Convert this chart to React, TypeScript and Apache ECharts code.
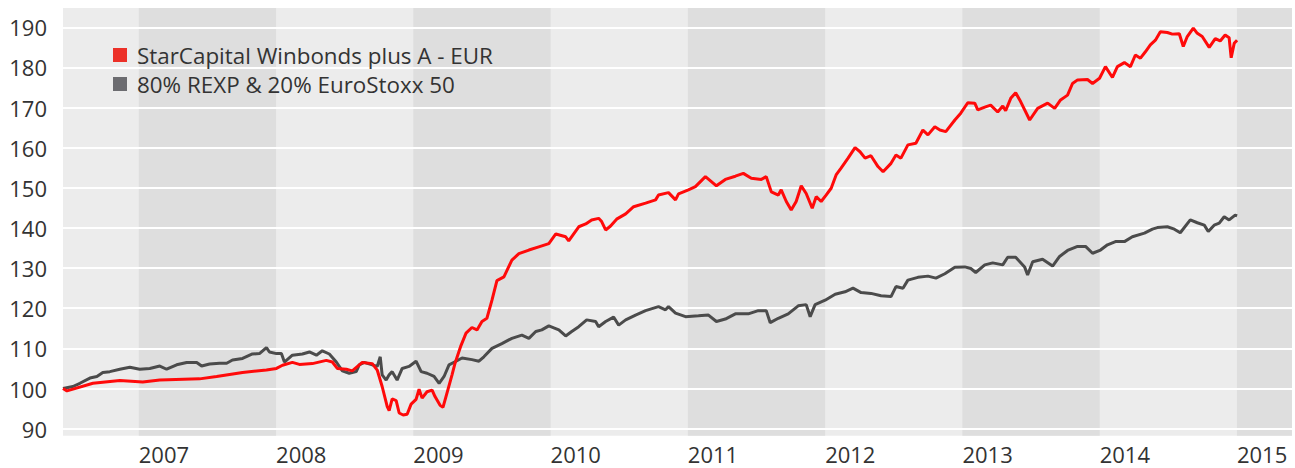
import React, { useEffect, useRef } from "react";
import * as echarts from "echarts";

const fundName = "StarCapital Winbonds plus A - EUR";
const benchName = "80% REXP & 20% EuroStoxx 50";

// [decimal year, value]
const fundPoints: [number, number][] = [
  [2006.448, 100.0], [2006.477, 99.4], [2006.666, 101.3], [2006.862, 102.0],
  [2007.029, 101.6], [2007.153, 102.1], [2007.443, 102.4], [2007.567, 103.0],
  [2007.756, 104.0], [2007.93, 104.6], [2008.003, 105.0], [2008.047, 105.8],
  [2008.119, 106.5], [2008.17, 106.0], [2008.265, 106.2], [2008.366, 107.0],
  [2008.41, 106.6], [2008.446, 105.0], [2008.512, 104.8], [2008.555, 104.4],
  [2008.628, 106.5], [2008.701, 106.2], [2008.737, 104.6], [2008.773, 100.5],
  [2008.81, 95.5], [2008.824, 94.5], [2008.846, 97.4], [2008.875, 97.0],
  [2008.897, 93.9], [2008.926, 93.4], [2008.955, 93.6], [2008.984, 96.1],
  [2009.02, 97.3], [2009.042, 99.8], [2009.064, 97.6], [2009.1, 99.2],
  [2009.137, 99.6], [2009.158, 98.0], [2009.195, 95.8], [2009.216, 95.3],
  [2009.238, 98.0], [2009.282, 103.4], [2009.304, 106.3], [2009.347, 110.7],
  [2009.384, 113.8], [2009.427, 115.2], [2009.464, 114.6], [2009.5, 116.7],
  [2009.536, 117.5], [2009.573, 122.0], [2009.609, 126.9], [2009.66, 127.8],
  [2009.718, 132.0], [2009.769, 133.6], [2009.842, 134.5], [2009.914, 135.3],
  [2009.987, 136.1], [2010.038, 138.5], [2010.11, 137.8], [2010.132, 136.8],
  [2010.205, 140.3], [2010.256, 141.0], [2010.299, 142.0], [2010.35, 142.4],
  [2010.372, 141.6], [2010.401, 139.5], [2010.437, 140.5], [2010.481, 142.2],
  [2010.547, 143.5], [2010.605, 145.3], [2010.692, 146.2], [2010.765, 147.0],
  [2010.786, 148.2], [2010.859, 148.8], [2010.91, 147.0], [2010.932, 148.5],
  [2011.004, 149.5], [2011.055, 150.3], [2011.128, 152.8], [2011.208, 150.5],
  [2011.273, 152.1], [2011.346, 152.9], [2011.404, 153.6], [2011.462, 152.4],
  [2011.535, 152.1], [2011.571, 152.8], [2011.608, 149.0], [2011.659, 148.2],
  [2011.68, 149.5], [2011.717, 146.6], [2011.753, 144.5], [2011.789, 146.6],
  [2011.826, 150.5], [2011.862, 148.6], [2011.906, 144.9], [2011.935, 147.8],
  [2011.971, 146.6], [2012.007, 148.2], [2012.044, 149.9], [2012.08, 153.2],
  [2012.116, 154.9], [2012.167, 157.4], [2012.218, 160.0], [2012.254, 159.0],
  [2012.291, 157.4], [2012.334, 158.0], [2012.385, 155.3], [2012.422, 154.0],
  [2012.48, 156.1], [2012.516, 158.2], [2012.552, 157.4], [2012.603, 160.7],
  [2012.661, 161.1], [2012.712, 164.4], [2012.749, 163.2], [2012.799, 165.2],
  [2012.836, 164.4], [2012.879, 164.0], [2012.945, 166.9], [2012.988, 168.6],
  [2013.039, 171.2], [2013.09, 171.1], [2013.112, 169.4], [2013.163, 170.1],
  [2013.206, 170.6], [2013.257, 168.9], [2013.294, 170.4], [2013.315, 169.2],
  [2013.352, 172.3], [2013.388, 173.7], [2013.424, 171.5], [2013.49, 166.9],
  [2013.548, 169.8], [2013.621, 171.1], [2013.672, 169.8], [2013.715, 171.9],
  [2013.766, 173.1], [2013.802, 176.0], [2013.839, 176.9], [2013.911, 177.0],
  [2013.948, 176.0], [2013.999, 177.3], [2014.042, 180.2], [2014.093, 177.5],
  [2014.129, 180.2], [2014.18, 181.2], [2014.224, 180.2], [2014.26, 183.1],
  [2014.297, 182.3], [2014.333, 183.9], [2014.369, 185.6], [2014.406, 186.8],
  [2014.442, 188.9], [2014.493, 188.7], [2014.529, 188.3], [2014.58, 188.4],
  [2014.609, 185.2], [2014.638, 187.7], [2014.682, 189.8], [2014.711, 188.5],
  [2014.747, 187.7], [2014.798, 185.0], [2014.842, 187.2], [2014.878, 186.6],
  [2014.914, 188.1], [2014.943, 187.4], [2014.958, 182.4], [2014.98, 186.0],
  [2015.001, 186.8],
];

const benchPoints: [number, number][] = [
  [2006.448, 100.0], [2006.52, 100.5], [2006.571, 101.3], [2006.644, 102.6],
  [2006.695, 103.0], [2006.738, 104.0], [2006.789, 104.2], [2006.862, 104.8],
  [2006.935, 105.3], [2007.007, 104.8], [2007.08, 105.0], [2007.153, 105.6],
  [2007.203, 104.8], [2007.276, 105.9], [2007.349, 106.5], [2007.422, 106.5],
  [2007.458, 105.6], [2007.516, 106.1], [2007.589, 106.3], [2007.64, 106.3],
  [2007.683, 107.1], [2007.756, 107.5], [2007.828, 108.6], [2007.879, 108.7],
  [2007.93, 110.2], [2007.952, 109.1], [2008.003, 108.7], [2008.039, 108.7],
  [2008.061, 106.6], [2008.119, 108.3], [2008.192, 108.6], [2008.243, 109.1],
  [2008.294, 108.3], [2008.337, 109.4], [2008.388, 108.6], [2008.439, 106.6],
  [2008.483, 104.4], [2008.533, 103.8], [2008.584, 104.2], [2008.606, 105.9],
  [2008.642, 106.5], [2008.701, 105.9], [2008.737, 105.5], [2008.759, 107.9],
  [2008.773, 103.4], [2008.802, 102.1], [2008.824, 103.4], [2008.846, 104.2],
  [2008.882, 102.1], [2008.919, 105.0], [2008.969, 105.5], [2009.02, 106.8],
  [2009.057, 104.2], [2009.1, 103.8], [2009.151, 103.0], [2009.188, 101.3],
  [2009.224, 103.0], [2009.26, 105.9], [2009.311, 106.8], [2009.355, 107.6],
  [2009.427, 107.2], [2009.478, 106.8], [2009.514, 107.9], [2009.573, 110.0],
  [2009.645, 111.2], [2009.718, 112.5], [2009.791, 113.3], [2009.842, 112.5],
  [2009.892, 114.2], [2009.936, 114.6], [2009.987, 115.6], [2010.06, 114.6],
  [2010.11, 113.1], [2010.154, 114.2], [2010.205, 115.4], [2010.263, 117.1],
  [2010.328, 116.7], [2010.35, 115.4], [2010.401, 116.7], [2010.459, 117.8],
  [2010.496, 115.8], [2010.547, 117.1], [2010.619, 118.3], [2010.692, 119.4],
  [2010.786, 120.4], [2010.837, 119.6], [2010.859, 120.4], [2010.91, 118.8],
  [2010.983, 117.9], [2011.077, 118.1], [2011.15, 118.3], [2011.208, 116.7],
  [2011.273, 117.3], [2011.346, 118.6], [2011.44, 118.6], [2011.513, 119.4],
  [2011.571, 119.4], [2011.6, 116.4], [2011.659, 117.5], [2011.731, 118.6],
  [2011.804, 120.6], [2011.862, 120.9], [2011.891, 117.9], [2011.927, 120.9],
  [2012.0, 122.0], [2012.073, 123.5], [2012.145, 124.1], [2012.203, 125.0],
  [2012.262, 123.9], [2012.334, 123.7], [2012.407, 123.1], [2012.48, 122.9],
  [2012.516, 125.4], [2012.567, 125.0], [2012.603, 127.0], [2012.676, 127.7],
  [2012.749, 128.0], [2012.807, 127.5], [2012.872, 128.6], [2012.945, 130.2],
  [2013.017, 130.3], [2013.061, 129.9], [2013.097, 128.9], [2013.163, 130.8],
  [2013.221, 131.3], [2013.294, 130.8], [2013.33, 132.7], [2013.388, 132.7],
  [2013.453, 130.3], [2013.475, 128.3], [2013.512, 131.6], [2013.584, 132.2],
  [2013.657, 130.5], [2013.708, 132.9], [2013.766, 134.4], [2013.839, 135.4],
  [2013.897, 135.4], [2013.948, 133.7], [2014.006, 134.5], [2014.057, 135.8],
  [2014.115, 136.6], [2014.18, 136.6], [2014.238, 137.8], [2014.326, 138.7],
  [2014.384, 139.7], [2014.42, 140.1], [2014.493, 140.3], [2014.544, 139.7],
  [2014.587, 138.8], [2014.66, 142.0], [2014.711, 141.3], [2014.762, 140.7],
  [2014.791, 139.1], [2014.834, 140.7], [2014.871, 141.2], [2014.907, 142.8],
  [2014.943, 142.0], [2014.987, 143.2], [2015.001, 143.0],
];

const darkBandYears = [2007, 2009, 2011, 2013, 2015];
const X_MIN = 2006.448;
const X_MAX = 2015.401;
const Y_MIN = 88.24;
const Y_MAX = 194.81;

const FONT = "'Open Sans', 'Noto Sans', sans-serif";

export default function App() {
  const ref = useRef<HTMLDivElement>(null);

  useEffect(() => {
    if (!ref.current) return;
    const chart = echarts.init(ref.current, undefined, { renderer: "svg" });
    const bands = darkBandYears.map((y) => [
      { xAxis: y },
      { xAxis: Math.min(y + 1, X_MAX) },
    ]);
    chart.setOption({
      animation: false,
      backgroundColor: "#ffffff",
      textStyle: { fontFamily: FONT },
      grid: {
        left: 63,
        right: 0,
        top: 8,
        bottom: 32.3,
        show: true,
        backgroundColor: "#ececec",
        borderWidth: 0,
      },
      legend: {
        orient: "vertical",
        left: 113,
        top: 44,
        padding: 0,
        itemWidth: 14,
        itemHeight: 14,
        itemGap: 7,
        icon: "rect",
        selectedMode: false,
        textStyle: {
          fontSize: 22.4,
          color: "#333333",
          fontFamily: FONT,
          padding: [0, 0, 0, 5],
        },
        data: [
          { name: fundName, itemStyle: { color: "#ec3028" } },
          { name: benchName, itemStyle: { color: "#6c6c70" } },
        ],
      },
      xAxis: {
        type: "value",
        min: X_MIN,
        max: X_MAX,
        splitNumber: 9,
        axisLine: { show: false },
        axisTick: { show: false },
        splitLine: { show: false },
        axisLabel: {
          align: "left",
          margin: 10,
          fontSize: 22,
          lineHeight: 16,
          color: "#333333",
          fontFamily: FONT,
          formatter: (v: number) =>
            Math.abs(v - Math.round(v)) < 1e-6 ? String(Math.round(v)) : "",
        },
      },
      yAxis: {
        type: "value",
        min: Y_MIN,
        max: Y_MAX,
        splitNumber: 10,
        z: 2,
        axisLine: { show: false },
        axisTick: { show: false },
        splitLine: {
          show: true,
          showMinLine: false,
          showMaxLine: false,
          lineStyle: { color: "#ffffff", width: 2 },
        },
        axisLabel: {
          margin: 16,
          fontSize: 22,
          color: "#333333",
          fontFamily: FONT,
          formatter: (v: number) =>
            Math.abs(v / 10 - Math.round(v / 10)) < 1e-6
              ? String(Math.round(v))
              : "",
        },
      },
      series: [
        {
          name: fundName,
          type: "line",
          data: fundPoints,
          showSymbol: false,
          z: 4,
          lineStyle: { color: "#ff0a0a", width: 3 },
          itemStyle: { color: "#ff0a0a" },
        },
        {
          name: benchName,
          type: "line",
          data: benchPoints,
          showSymbol: false,
          z: 3,
          lineStyle: { color: "#4b4b4b", width: 3 },
          itemStyle: { color: "#4b4b4b" },
          markArea: {
            silent: true,
            z: 1,
            itemStyle: { color: "#dedede", borderWidth: 0 },
            label: { show: false },
            data: bands,
          },
        },
      ],
    });
    return () => chart.dispose();
  }, []);

  return (
    <div
      ref={ref}
      style={{ position: "fixed", left: 0, top: 0, width: 1295, height: 468 }}
    />
  );
}
